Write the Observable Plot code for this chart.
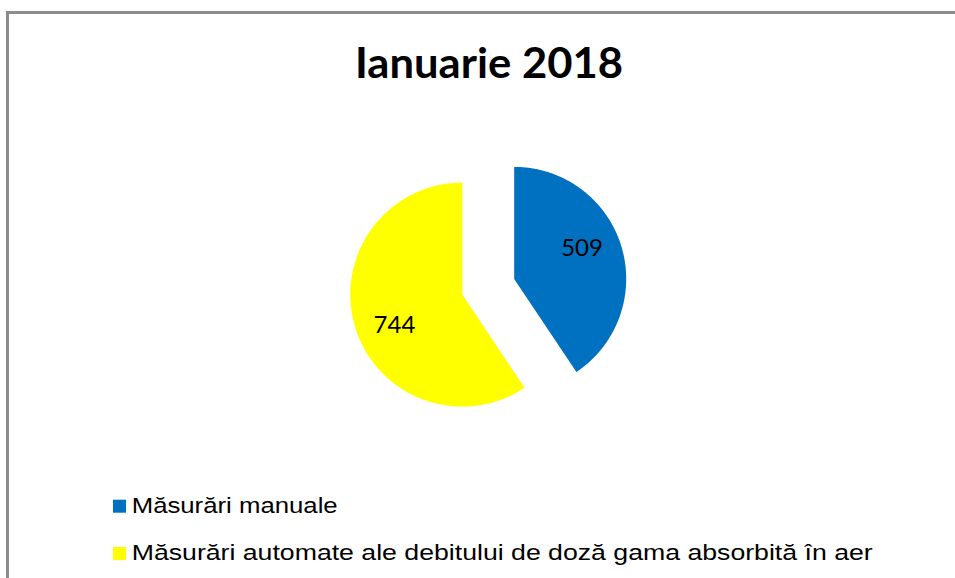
<!DOCTYPE html>
<html>
<head>
<meta charset="utf-8">
<script src="https://cdn.jsdelivr.net/npm/d3@7"></script>
<script src="https://cdn.jsdelivr.net/npm/@observablehq/plot@0.6"></script>
<style>
  html, body { margin: 0; padding: 0; background: #fff; }
  #wrap { position: relative; width: 955px; height: 578px; overflow: hidden; background: #fff; }
  #wrap > * { position: absolute; left: 0; top: 0; }
  #frame { left: 6px; top: 11px; width: 1200px; height: 1200px; border: 3px solid #8c8c8c; box-sizing: border-box; }
</style>
</head>
<body>
<div id="wrap">
  <div id="plot"></div>
  <div id="frame"></div>
  <svg id="overlay" width="955" height="578"></svg>
</div>
<script>
// ---- data ----
const titleText = "Ianuarie 2018";
const categories = ["Măsurări manuale", "Măsurări automate ale debitului de doză gama absorbită în aer"];
const values = [509, 744];
const colors = ["#0070C0", "#FFFF00"];

// ---- layout ----
const R = 112;               // pie radius in px
const center = [487.75, 286.25];
const explode = 0.242;       // explosion, fraction of radius
const labelRadius = 0.665;
const labelTurn = -7.5 * Math.PI / 180;  // labels sit slightly counter-clockwise of the bisector

const arcs = d3.pie().sort(null)(values);
const pts = [];
const labels = [];
arcs.forEach((a, i) => {
  const cat = categories[i];
  const mid = (a.startAngle + a.endAngle) / 2;
  const cx = explode * Math.sin(mid), cy = explode * Math.cos(mid);
  pts.push({cat, x: cx, y: cy});
  const n = Math.ceil((a.endAngle - a.startAngle) / (Math.PI / 360));
  for (let k = 0; k <= n; k++) {
    const t = a.startAngle + (a.endAngle - a.startAngle) * k / n;
    pts.push({cat, x: cx + Math.sin(t), y: cy + Math.cos(t)});
  }
  const la = mid + labelTurn;
  labels.push({cat, value: values[i], x: cx + labelRadius * Math.sin(la), y: cy + labelRadius * Math.cos(la)});
});

const chart = Plot.plot({
  width: 955,
  height: 578,
  margin: 0,
  style: {background: "none"},
  x: {domain: [-center[0] / R, (955 - center[0]) / R], axis: null},
  y: {domain: [-(578 - center[1]) / R, center[1] / R], axis: null},
  color: {domain: categories, range: colors},
  marks: [
    Plot.line(pts, {x: "x", y: "y", z: "cat", fill: "cat", stroke: "none", curve: "linear-closed"}),
    Plot.text(labels, {x: "x", y: "y", text: d => String(d.value), fill: "#000", fontSize: 24, fontFamily: "Lato"})
  ]
});
document.getElementById("plot").appendChild(chart);

// ---- title & legend ----
const ov = d3.select("#overlay");
ov.append("text")
  .attr("x", 489).attr("y", 78.3)
  .attr("text-anchor", "middle")
  .attr("font-family", "Lato").attr("font-weight", 700).attr("font-size", 42)
  .attr("textLength", 268).attr("lengthAdjust", "spacingAndGlyphs")
  .attr("fill", "#000")
  .text(titleText);

const legendWidths = [206, 741];
categories.forEach((c, i) => {
  const base = 512.7 + i * 47.3;
  ov.append("rect").attr("x", 113).attr("y", base - 13).attr("width", 13).attr("height", 13).attr("fill", colors[i]);
  ov.append("text")
    .attr("x", 131.7).attr("y", base)
    .attr("font-family", "Liberation Sans, Arial, sans-serif").attr("font-size", 22)
    .attr("textLength", legendWidths[i]).attr("lengthAdjust", "spacingAndGlyphs")
    .attr("fill", "#000")
    .text(c);
});
</script>
</body>
</html>
